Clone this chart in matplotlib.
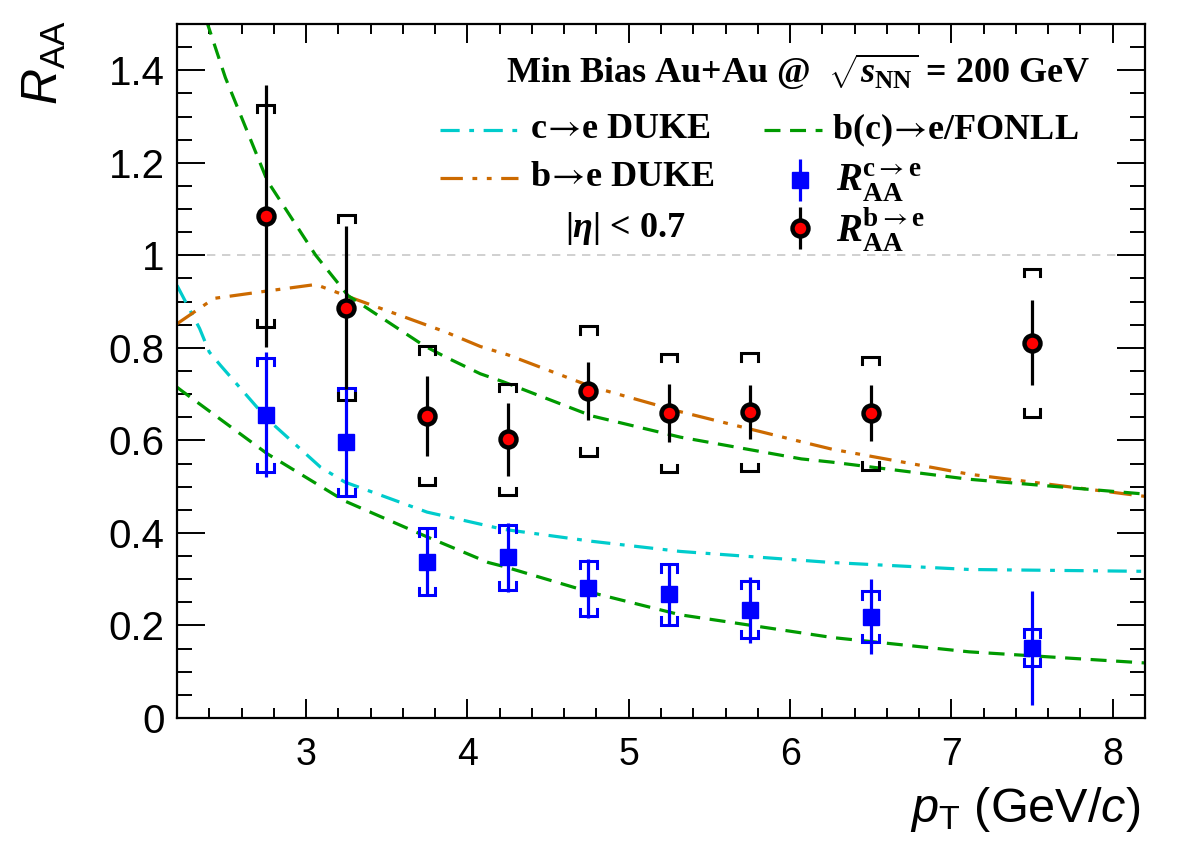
import numpy as np
import matplotlib
matplotlib.use("Agg")
import matplotlib.pyplot as plt
from matplotlib.ticker import MultipleLocator

plt.rcParams['mathtext.fontset'] = 'custom'
plt.rcParams['mathtext.rm'] = 'Liberation Sans'
plt.rcParams['mathtext.it'] = 'Liberation Sans:italic'
plt.rcParams['mathtext.bf'] = 'Liberation Serif:bold'
plt.rcParams['mathtext.bfit'] = 'Liberation Serif:bold:italic'
plt.rcParams['mathtext.sf'] = 'STIXGeneral'
plt.rcParams['font.family'] = ['Liberation Sans', 'DejaVu Sans']

# ---------------- data ----------------
pt = [2.75, 3.25, 3.75, 4.25, 4.75, 5.25, 5.75, 6.5, 7.5]

raa_b = [1.085, 0.887, 0.653, 0.602, 0.707, 0.659, 0.661, 0.659, 0.811]
stat_b = [0.283, 0.176, 0.087, 0.078, 0.062, 0.062, 0.059, 0.060, 0.092]
sys_b = [0.240, 0.200, 0.150, 0.120, 0.140, 0.128, 0.127, 0.122, 0.160]

raa_c = [0.655, 0.597, 0.338, 0.347, 0.280, 0.267, 0.234, 0.219, 0.152]
stat_c = [0.135, 0.117, 0.070, 0.075, 0.063, 0.069, 0.071, 0.081, 0.123]
sys_c = [0.123, 0.117, 0.072, 0.070, 0.060, 0.065, 0.062, 0.055, 0.040]

fonll_b_x = [2.38, 2.50, 2.76, 3.06, 3.26, 3.73, 3.86, 4.08, 4.22, 4.77, 5.32, 6.07, 6.26, 7.11, 8.20]
fonll_b_y = [1.51, 1.384, 1.161, 1.00, 0.913, 0.805, 0.781, 0.744, 0.727, 0.653, 0.607, 0.560, 0.553, 0.516, 0.484]

fonll_c_x = [2.20, 2.23, 2.76, 3.24, 3.74, 4.13, 4.22, 4.77, 5.32, 6.07, 6.26, 7.11, 8.20]
fonll_c_y = [0.715, 0.707, 0.571, 0.469, 0.393, 0.336, 0.328, 0.271, 0.223, 0.184, 0.174, 0.143, 0.119]

duke_c_x = [2.20, 2.34, 2.40, 2.47, 2.76, 3.09, 3.24, 3.75, 4.22, 4.77, 5.32, 6.26, 7.11, 8.20]
duke_c_y = [0.935, 0.842, 0.791, 0.762, 0.646, 0.542, 0.510, 0.445, 0.408, 0.382, 0.360, 0.336, 0.321, 0.317]

duke_b_x = [2.20, 2.43, 2.74, 3.06, 3.26, 3.86, 4.08, 4.25, 4.77, 5.32, 6.07, 6.26, 7.11, 8.20]
duke_b_y = [0.852, 0.907, 0.922, 0.937, 0.911, 0.835, 0.803, 0.785, 0.716, 0.662, 0.597, 0.581, 0.527, 0.479]

xticks = [3, 4, 5, 6, 7, 8]
yticks = [0, 0.2, 0.4, 0.6, 0.8, 1.0, 1.2, 1.4]
yticklabels = ['0', '0.2', '0.4', '0.6', '0.8', '1', '1.2', '1.4']

# ---------------- colors / styles ----------------
C_CYAN = '#00cccc'
C_ORANGE = '#cc6a00'
C_GREEN = '#009a00'
C_BLUE = '#0000ff'

fig = plt.figure(figsize=(11.82, 8.46), dpi=100)
W, H = 1182, 846
x0, x1, y0, y1 = 177, 1145, 24, 718
ax = fig.add_axes([x0 / W, (H - y1) / H, (x1 - x0) / W, (y1 - y0) / H])
ax.set_xlim(2.2, 8.2)
ax.set_ylim(0, 1.5)

# reference line
ax.axhline(1.0, color='#c8c8c8', lw=1.2, ls=(0, (5, 4)), zorder=1)

lw = 2.3
ls_dashdot = (0, (6, 3, 1.5, 3))
ls_dashdotdot = (0, (7, 3, 1.5, 3, 1.5, 3))
ls_dash = (0, (5, 3))
ax.plot(duke_c_x, duke_c_y, color=C_CYAN, lw=lw, ls=ls_dashdot, zorder=2)
ax.plot(duke_b_x, duke_b_y, color=C_ORANGE, lw=lw, ls=ls_dashdotdot, zorder=2)
ax.plot(fonll_b_x, fonll_b_y, color=C_GREEN, lw=lw, ls=ls_dash, zorder=2)
ax.plot(fonll_c_x, fonll_c_y, color=C_GREEN, lw=lw, ls=ls_dash, zorder=2)


def brackets(x, y, s, color, lwb):
    hw = 0.052   # half width in data x
    leg = 0.016  # leg length in data y
    for xi, yi, si in zip(x, y, s):
        top = yi + si
        bot = yi - si
        ax.plot([xi - hw, xi - hw, xi + hw, xi + hw], [top - leg, top, top, top - leg],
                color=color, lw=lwb, solid_joinstyle='miter', zorder=3)
        ax.plot([xi - hw, xi - hw, xi + hw, xi + hw], [bot + leg, bot, bot, bot + leg],
                color=color, lw=lwb, solid_joinstyle='miter', zorder=3)


brackets(pt, raa_c, sys_c, C_BLUE, 2.2)
brackets(pt, raa_b, sys_b, 'black', 2.2)

ax.errorbar(pt, raa_c, yerr=stat_c, fmt='s', color=C_BLUE, ms=11, mec=C_BLUE,
            elinewidth=2.3, capsize=0, zorder=4)
ax.errorbar(pt, raa_b, yerr=stat_b, fmt='o', color='black', mfc='red', mec='black',
            ms=11.5, mew=3.2, elinewidth=2.3, capsize=0, zorder=5)

# ---------------- axes styling ----------------
for sp in ax.spines.values():
    sp.set_linewidth(1.6)
ax.set_xticks(xticks)
ax.set_xticklabels([str(t) for t in xticks])
ax.set_yticks(yticks)
ax.set_yticklabels(yticklabels)
ax.xaxis.set_minor_locator(MultipleLocator(0.2))
ax.yaxis.set_minor_locator(MultipleLocator(0.05))
ax.tick_params(axis='x', which='major', direction='in', length=14, width=1.4,
               top=True, labelsize=27, pad=14)
ax.tick_params(axis='x', which='minor', direction='in', length=7, width=1.4, top=True)
ax.tick_params(axis='y', which='major', direction='in', length=20, width=1.4,
               right=True, labelsize=29, pad=9)
ax.tick_params(axis='y', which='minor', direction='in', length=10.5, width=1.4, right=True)

fig.text(1140 / W, 1 - 822 / H, r'$p_{\mathrm{T}}$ (GeV/$c$)', fontsize=35,
         ha='right', va='baseline')
fig.text(44 / W, 1 - 20 / H, r'$R_{\mathrm{AA}}$', fontsize=36, rotation=90,
         ha='center', va='top')


# ---------------- legend / labels ----------------
def axpos(px, py):
    return ((px - x0) / (x1 - x0), (y1 - py) / (y1 - y0))


serif = ['Liberation Serif', 'DejaVu Serif']
tk = dict(transform=ax.transAxes, fontsize=26, fontweight='bold', family=serif,
          va='center', ha='left')
ARROW = r'$\!\mathsf{\rightarrow}\!$'

ax.text(*axpos(1090, 72), r'Min Bias Au+Au @  $\sqrt{\mathbfit{s}_{\mathbf{NN}}}$ = 200 GeV',
        **{**tk, 'ha': 'right', 'fontsize': 26})


def sample(px0, px1, py, color, ls):
    (ax0, ay), (ax1, _) = axpos(px0, py), axpos(px1, py)
    ax.plot([ax0, ax1], [ay, ay], transform=ax.transAxes, color=color, lw=lw, ls=ls,
            clip_on=False)


sample(440, 518, 130, C_CYAN, ls_dashdot)
ax.text(*axpos(530, 130), 'c' + ARROW + 'e DUKE', **tk)
sample(764, 822, 130, C_GREEN, ls_dash)
ax.text(*axpos(832, 130), 'b(c)' + ARROW + 'e/FONLL', **tk)

sample(440, 518, 178, C_ORANGE, ls_dashdotdot)
ax.text(*axpos(530, 178), 'b' + ARROW + 'e DUKE', **tk)

mx, my = axpos(800, 180)
ax.errorbar([mx], [my], yerr=[0.03], fmt='s', color=C_BLUE, ms=11, elinewidth=2.3,
            transform=ax.transAxes, clip_on=False)
ax.text(*axpos(836, 182), r'$\mathbfit{R}_{\mathbf{AA}}^{\mathbf{c}\mathsf{\rightarrow}\mathbf{e}}$',
        **{**tk, 'fontsize': 28})

ax.text(*axpos(565, 228), r'$\mathbf{|}\mathbfit{\eta}\mathbf{|}$ < 0.7', **tk)
mx, my = axpos(800, 228)
ax.errorbar([mx], [my], yerr=[0.03], fmt='o', color='black', mfc='red', mec='black',
            ms=11.5, mew=3.2, elinewidth=2.3, transform=ax.transAxes, clip_on=False)
ax.text(*axpos(836, 230), r'$\mathbfit{R}_{\mathbf{AA}}^{\mathbf{b}\mathsf{\rightarrow}\mathbf{e}}$',
        **{**tk, 'fontsize': 28})

fig.savefig('out.png', dpi=100)
